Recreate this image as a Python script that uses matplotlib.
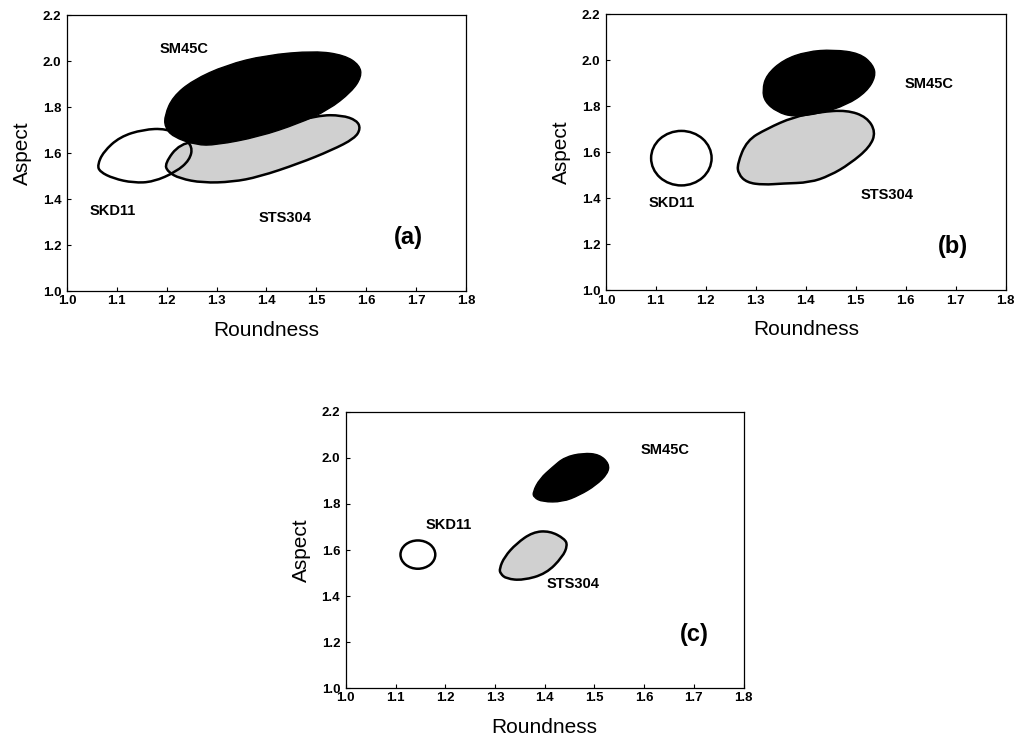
import matplotlib
matplotlib.use("Agg")
import matplotlib.pyplot as plt
from matplotlib.patches import PathPatch, Ellipse
from matplotlib.path import Path

plt.rcParams['font.family'] = ['Liberation Sans', 'DejaVu Sans']

# ---- Panel (a) outlines (Roundness, Aspect) ----
a_sm45c_r = [1.196, 1.212, 1.252, 1.319, 1.398, 1.498, 1.557, 1.587, 1.591, 1.571, 1.524, 1.465, 1.385, 1.299, 1.259, 1.212, 1.196]
a_sm45c_a = [1.765, 1.845, 1.917, 1.983, 2.026, 2.045, 2.026, 1.983, 1.932, 1.867, 1.787, 1.729, 1.671, 1.635, 1.635, 1.671, 1.714]
a_sts304_r = [1.196, 1.226, 1.279, 1.398, 1.504, 1.551, 1.581, 1.589, 1.577, 1.531, 1.465, 1.385, 1.332, 1.272, 1.226, 1.202]
a_sts304_a = [1.555, 1.642, 1.657, 1.707, 1.765, 1.765, 1.743, 1.707, 1.664, 1.613, 1.555, 1.497, 1.475, 1.471, 1.490, 1.519]
a_skd11_r = [1.061, 1.073, 1.106, 1.153, 1.199, 1.232, 1.252, 1.246, 1.219, 1.173, 1.133, 1.093, 1.066]
a_skd11_a = [1.548, 1.606, 1.671, 1.703, 1.707, 1.671, 1.628, 1.570, 1.519, 1.475, 1.471, 1.490, 1.519]

# ---- Panel (b) ----
b_sm45c_r = [1.313, 1.321, 1.355, 1.402, 1.455, 1.508, 1.535, 1.540, 1.522, 1.482, 1.428, 1.375, 1.342, 1.318]
b_sm45c_a = [1.871, 1.937, 2.003, 2.039, 2.047, 2.032, 1.981, 1.930, 1.864, 1.806, 1.769, 1.754, 1.776, 1.820]
b_sts304_r = [1.263, 1.282, 1.322, 1.375, 1.428, 1.482, 1.522, 1.540, 1.528, 1.488, 1.448, 1.408, 1.355, 1.315, 1.282, 1.265]
b_sts304_a = [1.550, 1.652, 1.703, 1.754, 1.776, 1.784, 1.754, 1.689, 1.623, 1.550, 1.499, 1.469, 1.465, 1.459, 1.469, 1.506]
b_skd11 = dict(center=(1.151, 1.575), width=0.121, height=0.237)

# ---- Panel (c) ----
c_sm45c_r = [1.376, 1.390, 1.416, 1.440, 1.477, 1.510, 1.530, 1.527, 1.503, 1.470, 1.436, 1.396, 1.378]
c_sm45c_a = [1.852, 1.910, 1.961, 2.004, 2.022, 2.016, 1.975, 1.932, 1.881, 1.838, 1.809, 1.809, 1.828]
c_sts304_r = [1.309, 1.319, 1.343, 1.376, 1.410, 1.440, 1.446, 1.436, 1.403, 1.356, 1.323, 1.311]
c_sts304_a = [1.519, 1.570, 1.628, 1.678, 1.683, 1.649, 1.620, 1.570, 1.497, 1.468, 1.475, 1.497]
c_skd11 = dict(center=(1.145, 1.580), width=0.070, height=0.123)

# ---- Labels ----
a_labels = [("SM45C", 1.234, 2.055), ("SKD11", 1.092, 1.349), ("STS304", 1.437, 1.320)]
b_labels = [("SM45C", 1.647, 1.898), ("STS304", 1.563, 1.415), ("SKD11", 1.131, 1.379)]
c_labels = [("SM45C", 1.643, 2.036), ("STS304", 1.458, 1.454), ("SKD11", 1.207, 1.710)]
panel_tags = [("(a)", 1.685, 1.233), ("(b)", 1.694, 1.192), ("(c)", 1.701, 1.233)]

x_ticks = [1.0, 1.1, 1.2, 1.3, 1.4, 1.5, 1.6, 1.7, 1.8]
y_ticks = [1.0, 1.2, 1.4, 1.6, 1.8, 2.0, 2.2]

GRAY = '#d0d0d0'
LW = 1.8

fig = plt.figure(figsize=(10.2, 7.39), dpi=100)
axA = fig.add_axes([0.0657, 0.606, 0.391, 0.3735])
axB = fig.add_axes([0.594, 0.607, 0.392, 0.3735])
axC = fig.add_axes([0.339, 0.069, 0.390, 0.3735])


def style(ax):
    ax.set_xlim(1.0, 1.8)
    ax.set_ylim(1.0, 2.2)
    ax.set_xticks(x_ticks)
    ax.set_yticks(y_ticks)
    ax.set_xticklabels([f"{t:.1f}" for t in x_ticks], fontweight='bold', fontsize=9.5)
    ax.set_yticklabels([f"{t:.1f}" for t in y_ticks], fontweight='bold', fontsize=9.5)
    ax.tick_params(direction='in', length=3, width=0.8)
    ax.tick_params(axis='x', pad=3)
    ax.tick_params(axis='y', pad=4)
    ax.set_xlabel("Roundness", fontsize=15, labelpad=10)
    ax.set_ylabel("Aspect", fontsize=15, labelpad=8)
    for s in ax.spines.values():
        s.set_linewidth(0.9)


def smooth_path(r, a):
    # quadratic Bezier through midpoints, read points as control points
    pts = list(zip(r, a))
    n = len(pts)
    mids = [((pts[i][0] + pts[(i + 1) % n][0]) / 2, (pts[i][1] + pts[(i + 1) % n][1]) / 2) for i in range(n)]
    verts = [mids[-1]]
    codes = [Path.MOVETO]
    for i in range(n):
        verts += [pts[i], mids[i]]
        codes += [Path.CURVE3, Path.CURVE3]
    verts.append(mids[-1])
    codes.append(Path.CLOSEPOLY)
    return Path(verts, codes)


def blob(ax, r, a, face, z, edge='black', lw=LW):
    ax.add_patch(PathPatch(smooth_path(r, a), facecolor=face, edgecolor=edge,
                           linewidth=lw, zorder=z))


# Panel (a)
blob(axA, a_sts304_r, a_sts304_a, GRAY, 2)
blob(axA, a_skd11_r, a_skd11_a, 'none', 3)
blob(axA, a_sm45c_r, a_sm45c_a, 'black', 4, lw=1.0)
# Panel (b)
axB.add_patch(Ellipse(b_skd11['center'], b_skd11['width'], b_skd11['height'],
                      facecolor='none', edgecolor='black', linewidth=LW, zorder=3))
blob(axB, b_sts304_r, b_sts304_a, GRAY, 2)
blob(axB, b_sm45c_r, b_sm45c_a, 'black', 4, lw=1.0)
# Panel (c)
axC.add_patch(Ellipse(c_skd11['center'], c_skd11['width'], c_skd11['height'],
                      facecolor='none', edgecolor='black', linewidth=LW, zorder=3))
blob(axC, c_sts304_r, c_sts304_a, GRAY, 2)
blob(axC, c_sm45c_r, c_sm45c_a, 'black', 4, lw=1.0)

for ax, labels, tag in zip([axA, axB, axC], [a_labels, b_labels, c_labels], panel_tags):
    style(ax)
    for txt, x, y in labels:
        ax.text(x, y, txt, fontsize=10.5, fontweight='bold', ha='center', va='center', zorder=5)
    ax.text(tag[1], tag[2], tag[0], fontsize=17, fontweight='bold', ha='center', va='center', zorder=5)

fig.savefig("out.png", dpi=100)
